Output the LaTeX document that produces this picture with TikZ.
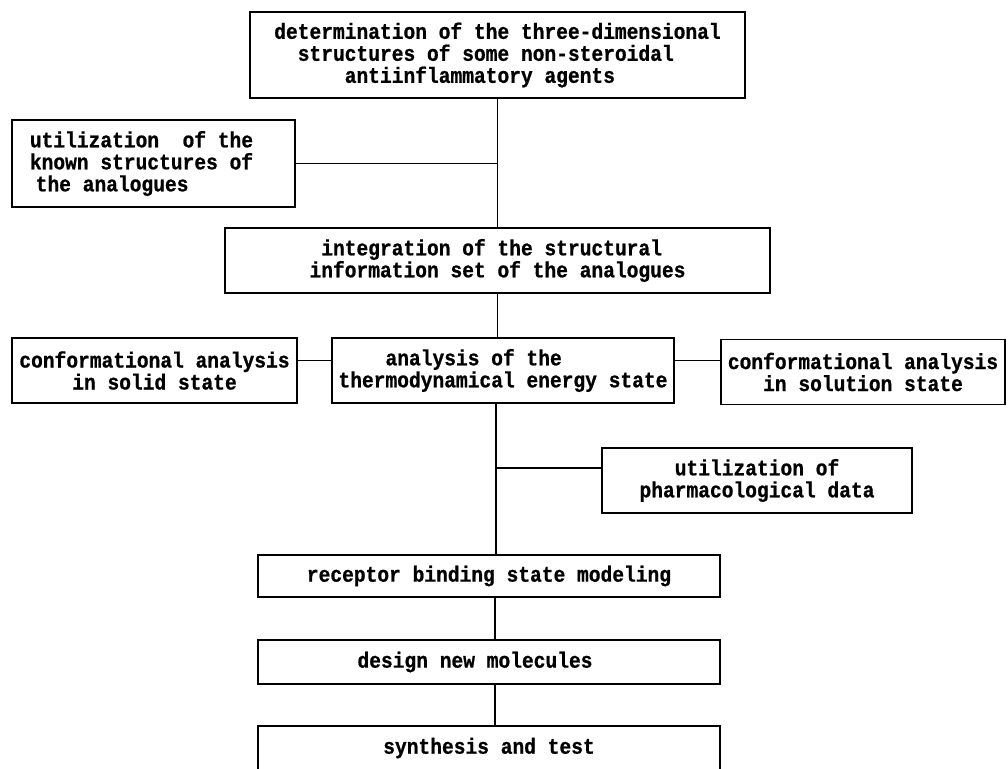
\documentclass[tikz,border=0pt]{standalone}
\usepackage{fontspec}
\newfontfamily\reffont{Liberation Mono}[UprightFont=* Bold, FakeStretch=0.89, FakeBold=0.8]
\newlength\cwd
\setlength\cwd{11.75pt}
\newcommand\ind[1]{\hspace*{#1\cwd}}
\tikzset{
  boxnode/.style={draw, line width=1.6pt, inner sep=0pt, align=center,
    font=\reffont\fontsize{22}{22}\selectfont},
  link/.style={line width=1.3pt}
}
\begin{document}
\begin{tikzpicture}[x=1pt, y=-1pt]
\useasboundingbox (0,0) rectangle (1008,768);
\clip (0,0) rectangle (1008,768);
\node[boxnode, align=left, minimum width=495, minimum height=86] (top) at (497.5,55)
  {determination of the three-dimensional\\\ind{2}structures of some non-steroidal\\\ind{6}antiinflammatory agents};
\node[boxnode, align=left, minimum width=283, minimum height=87] (util) at (153.5,163.5)
  {utilization~~of the\hspace*{24pt}\\known structures of\\\ind{0.5}the analogues};
\node[boxnode, align=left, minimum width=545, minimum height=65] (integ) at (497.5,260.5)
  {\ind{1}integration of the structural\\information set of the analogues};
\node[boxnode, minimum width=285, minimum height=65] (solid) at (154.5,370.5)
  {conformational analysis\\in solid state};
\node[boxnode, align=left, minimum width=342, minimum height=65] (thermo) at (503,370.5)
  {\ind{4}analysis of the\\thermodynamical energy state};
\node[boxnode, minimum width=284, minimum height=65] (solution) at (863,372)
  {conformational analysis\\in solution state};
\node[boxnode, minimum width=310, minimum height=65] (pharm) at (757,480.5)
  {utilization of\\pharmacological data};
\node[boxnode, minimum width=462, minimum height=42] (receptor) at (489,576)
  {receptor binding state modeling};
\node[boxnode, minimum width=462, minimum height=44] (design) at (489,662)
  {design new molecules\hspace*{28pt}};
\node[boxnode, minimum width=462, minimum height=44] (synth) at (489,748)
  {synthesis and test};
\coordinate (sp2) at (496,0);
\coordinate (sp3) at (495,0);
\draw[link] (top) -- (integ);
\draw[link] (util.east) -- (util.east -| top.south);
\draw[link] (integ.south) -- (integ.south |- thermo.north);
\draw[link] ([yshift=10pt]solid.east) -- ([yshift=10pt]solid.east -| thermo.west);
\draw[link] ([yshift=10pt]thermo.east) -- ([yshift=10pt]thermo.east -| solution.west);
\draw[link] (thermo.south -| sp2) -- (receptor.north -| sp2);
\draw[link] ([yshift=12.5pt]pharm.west) -- ([yshift=12.5pt]pharm.west -| sp2);
\draw[link] (receptor.south -| sp3) -- (design.north -| sp3);
\draw[link] (design.south -| sp3) -- (synth.north -| sp3);
\end{tikzpicture}
\end{document}
